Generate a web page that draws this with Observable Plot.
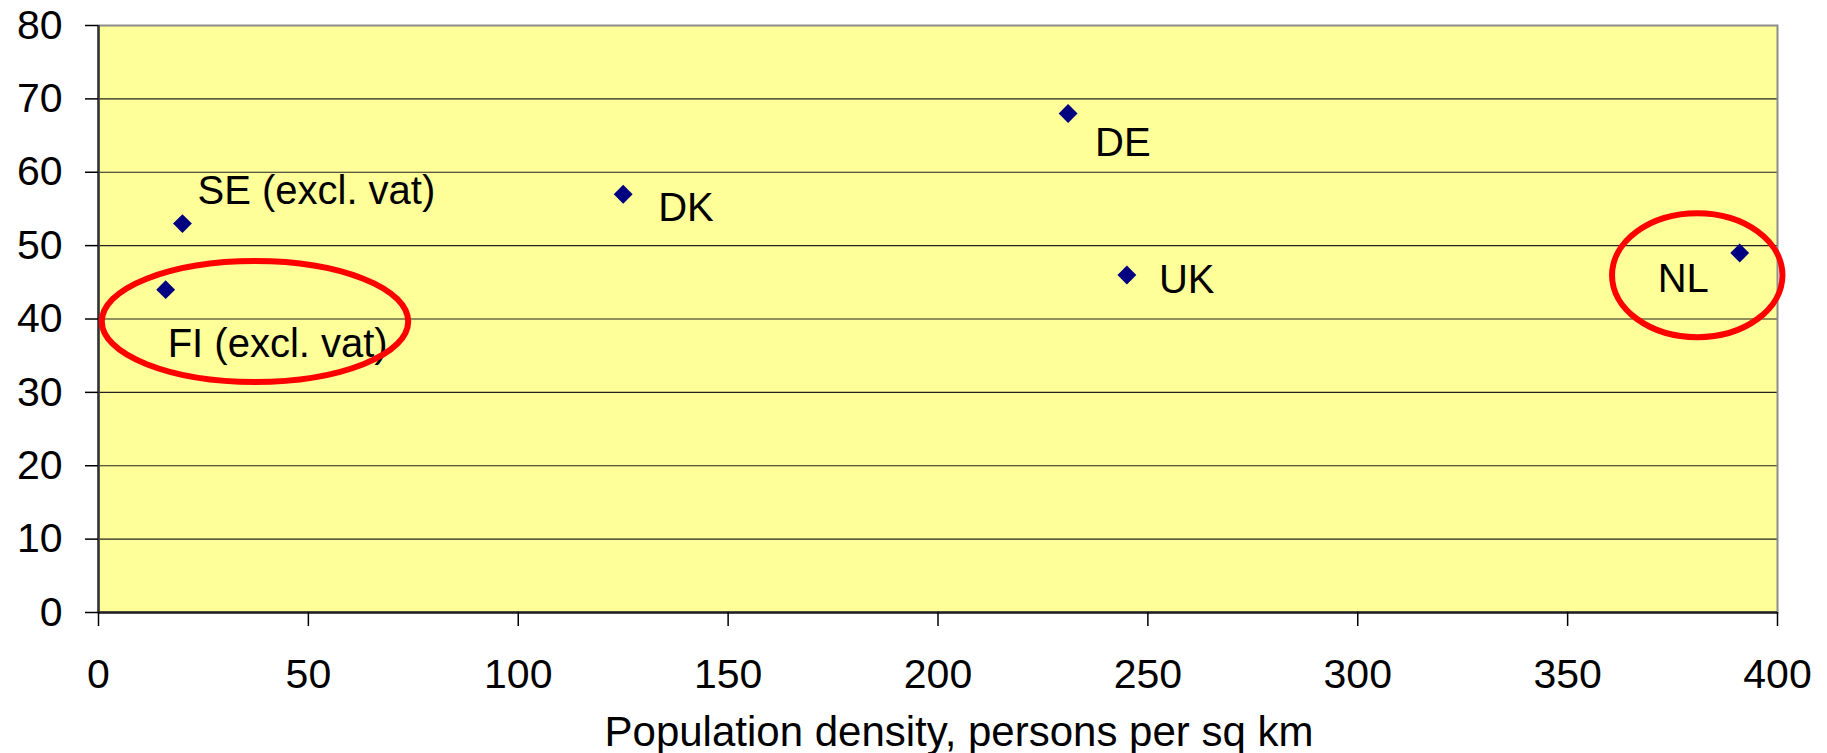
<!DOCTYPE html>
<html><head><meta charset="utf-8">
<script src="https://cdn.jsdelivr.net/npm/d3@7"></script>
<script src="https://cdn.jsdelivr.net/npm/@observablehq/plot@0.6"></script>
<style>html,body{margin:0;padding:0;background:#fff} svg{display:block}</style>
</head><body><div id="chart"></div>
<script>
// Data
const countries = ["SE (excl. vat)", "FI (excl. vat)", "DK", "DE", "UK", "NL"];
const density = [20, 16, 125, 231, 245, 391];
const value = [53, 44, 57, 68, 46, 49];
const xTicks = [0, 50, 100, 150, 200, 250, 300, 350, 400];
const yTicks = [0, 10, 20, 30, 40, 50, 60, 70, 80];
const xLabel = "Population density, persons per sq km";
// Highlight ellipses (data units): centre x, centre y, radius x, radius y
const ringCx = [37.4, 381];
const ringCy = [39.6, 45.9];
const ringRx = [36.5, 20.3];
const ringRy = [8.24, 8.44];

// Label placement (pixels, relative to point)
const labelDx = [15, 2, 35, 27, 32, -82];
const labelDy = [-20, 67, 27, 42, 18, 39];

const idx = countries.map((_, i) => i);
const fontFamily = "'Liberation Sans', Arial, sans-serif";

const marks = [
  Plot.frame({fill: "#FFFF99"}),
  Plot.gridY(yTicks.filter(t => t > 0 && t < 80), {stroke: "#222", strokeOpacity: 1, strokeWidth: 1.2}),
  Plot.frame({stroke: "#8c8c8c", strokeWidth: 2}),
  Plot.ruleX([0], {stroke: "#333", strokeWidth: 2.5}),
  Plot.ruleY([0], {stroke: "#222", strokeWidth: 2.5}),
  Plot.axisX(xTicks, {tickSize: 14, tickPadding: 32, fontSize: 41, strokeWidth: 1.5, label: null}),
  Plot.axisY(yTicks, {tickSize: 13, tickPadding: 23, fontSize: 41, strokeWidth: 1.5, label: null}),
  Plot.dot(idx, {x: i => density[i], y: i => value[i], symbol: "diamond2", r: 8.5, fill: "#000080", stroke: "none"}),
  ...idx.map(i => Plot.text([i], {
    x: d => density[d], y: d => value[d], text: d => countries[d],
    dx: labelDx[i], dy: labelDy[i], textAnchor: "start", lineAnchor: "bottom",
    fontSize: 40, fill: "black"
  })),
  Plot.text([xLabel], {frameAnchor: "bottom", text: d => d, dx: 21, dy: 133, lineAnchor: "bottom", fontSize: 42, fill: "black"})
];

const svg = Plot.plot({
  width: 1827,
  height: 753,
  marginLeft: 98,
  marginRight: 50,
  marginTop: 25,
  marginBottom: 141,
  style: {fontFamily, fontSize: "41px", color: "black", background: "white", overflow: "visible"},
  x: {domain: [0, 400]},
  y: {domain: [0, 80]},
  marks
});

// Red highlight ellipses through the plot's own scales
const xs = svg.scale("x"), ys = svg.scale("y");
const g = d3.select(svg).append("g").attr("fill", "none").attr("stroke", "#FF0000").attr("stroke-width", 6);
ringCx.forEach((cx, i) => {
  const px = xs.apply(cx), py = ys.apply(ringCy[i]);
  g.append("ellipse")
    .attr("cx", px).attr("cy", py)
    .attr("rx", Math.abs(xs.apply(cx + ringRx[i]) - px))
    .attr("ry", Math.abs(ys.apply(ringCy[i] + ringRy[i]) - py));
});

document.getElementById("chart").appendChild(svg);
</script>
</body></html>
